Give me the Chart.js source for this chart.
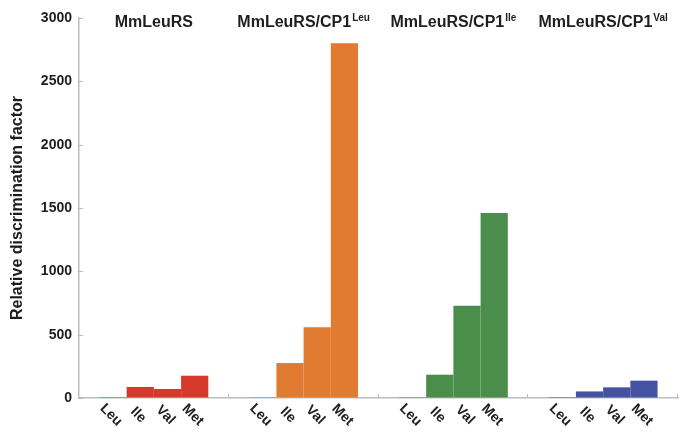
<!DOCTYPE html>
<html>
<head>
<meta charset="utf-8">
<script src="https://cdn.jsdelivr.net/npm/chart.js@4"></script>
<style>
  html, body { margin: 0; padding: 0; background: #fff; }
</style>
</head>
<body>
<canvas id="myChart" width="680" height="433"></canvas>
<script>
const groupNames = ['MmLeuRS', 'MmLeuRS/CP1', 'MmLeuRS/CP1', 'MmLeuRS/CP1'];
const groupSups = ['', 'Leu', 'Ile', 'Val'];
const aminoAcids = ['Leu', 'Ile', 'Val', 'Met'];
const leuValues = [1, 1, 1, 1];
const ileValues = [87, 276, 184, 52];
const valValues = [71, 558, 729, 84];
const metValues = [176, 2800, 1461, 137];
const yTicks = [0, 500, 1000, 1500, 2000, 2500, 3000];

const groupColors = ['#d4392b', '#e07b31', '#4b8e4b', '#4353a1'];
const axisColor = '#bdbdbd';
const textColor = '#1e1e1e';
const fontFamily = '"Liberation Sans", Arial, sans-serif';

const ctx = document.getElementById('myChart');

const decorations = {
    id: 'decorations',
    afterDraw(chart) {
        const c = chart.ctx;
        const area = chart.chartArea;
        const x = chart.scales.x;
        const y = chart.scales.y;
        c.save();

        // small inner ticks
        c.strokeStyle = axisColor;
        c.lineWidth = 1;
        yTicks.forEach(v => {
            const py = Math.round(y.getPixelForValue(v)) + 0.5;
            c.beginPath();
            c.moveTo(area.left, py);
            c.lineTo(area.left + 4, py);
            c.stroke();
        });
        const half = (area.right - area.left) / groupNames.length / 2;
        groupNames.forEach((g, i) => {
            const px = Math.round(x.getPixelForValue(i) + half) - 0.5;
            c.beginPath();
            c.moveTo(px, area.bottom);
            c.lineTo(px, area.bottom - 4);
            c.stroke();
        });

        // rotated amino acid labels under each bar
        c.fillStyle = textColor;
        c.font = 'bold 14px ' + fontFamily;
        c.textAlign = 'center';
        c.textBaseline = 'middle';
        aminoAcids.forEach((aa, d) => {
            chart.getDatasetMeta(d).data.forEach(bar => {
                c.save();
                c.translate(bar.x - 2, area.bottom + 17);
                c.rotate(Math.PI / 4);
                c.fillText(aa, 0, 0);
                c.restore();
            });
        });

        // group titles with superscripts
        c.textAlign = 'left';
        c.textBaseline = 'alphabetic';
        groupNames.forEach((g, i) => {
            c.font = 'bold 16px ' + fontFamily;
            const w1 = c.measureText(g).width;
            c.font = 'bold 10px ' + fontFamily;
            const w2 = groupSups[i] ? c.measureText(groupSups[i]).width + 1 : 0;
            const start = x.getPixelForValue(i) - (w1 + w2) / 2;
            c.font = 'bold 16px ' + fontFamily;
            c.fillText(g, start, 27);
            if (groupSups[i]) {
                c.font = 'bold 10px ' + fontFamily;
                c.fillText(groupSups[i], start + w1 + 1, 21);
            }
        });
        c.restore();
    }
};

new Chart(ctx, {
    type: 'bar',
    data: {
        labels: groupNames.map((g, i) => g + groupSups[i]),
        datasets: aminoAcids.map((aa, d) => ({
            label: aa,
            data: [leuValues, ileValues, valValues, metValues][d],
            backgroundColor: groupColors,
            borderWidth: 0,
            barPercentage: 1,
            categoryPercentage: 0.727
        }))
    },
    options: {
        responsive: false,
        animation: false,
        layout: {
            padding: { top: 18, right: 2, bottom: 0, left: 0 }
        },
        plugins: {
            legend: { display: false },
            tooltip: { enabled: false }
        },
        scales: {
            x: {
                ticks: { display: false },
                grid: { drawOnChartArea: false, drawTicks: false },
                border: { color: axisColor, width: 1.5 },
                afterFit(scale) { scale.height = 35; }
            },
            y: {
                min: 0,
                max: 3000,
                afterBuildTicks(scale) { scale.ticks = yTicks.map(v => ({ value: v })); },
                ticks: {
                    color: textColor,
                    padding: 7,
                    font: { family: fontFamily, size: 14, weight: 'bold' },
                    callback: v => String(v)
                },
                grid: { drawOnChartArea: false, drawTicks: false },
                border: { color: axisColor, width: 1.5 },
                title: {
                    display: true,
                    text: 'Relative discrimination factor',
                    color: textColor,
                    padding: { top: 8, bottom: 0 },
                    font: { family: fontFamily, size: 16, weight: 'bold' }
                },
                afterFit(scale) { scale.width = 79; }
            }
        }
    },
    plugins: [decorations]
});
</script>
</body>
</html>
